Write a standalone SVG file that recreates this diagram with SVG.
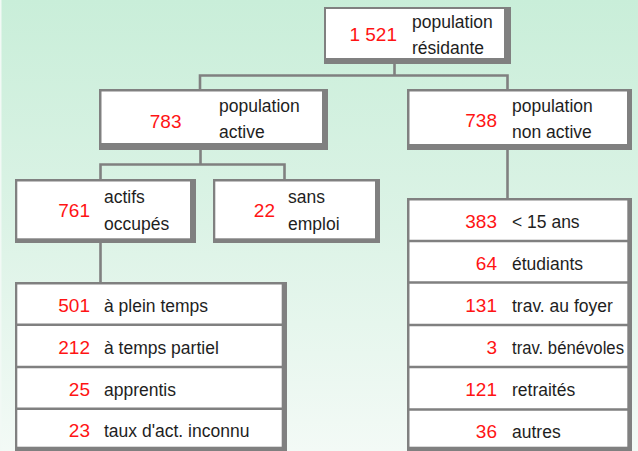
<svg xmlns="http://www.w3.org/2000/svg" width="638" height="451" viewBox="0 0 638 451">
<defs>
<linearGradient id="bg" x1="0" y1="0" x2="0" y2="1">
<stop offset="0" stop-color="#c9eed9"/>
<stop offset="0.5" stop-color="#dcf3e6"/>
<stop offset="1" stop-color="#f3faf6"/>
</linearGradient>
<style>
.sh{fill:#808080}
.bx{fill:#ffffff}
.dv{stroke:#808080;stroke-width:2.5;fill:none}
.cn{stroke:#808080;stroke-width:2.6;fill:none}
.n{font-family:"Liberation Sans",Arial,sans-serif;font-size:19px;fill:#ff1414;text-anchor:end}
.t{font-family:"Liberation Sans",Arial,sans-serif;font-size:17.5px;fill:#1e1e1e}
</style>
</defs>
<rect x="0" y="0" width="638" height="451" fill="url(#bg)"/>
<rect x="0" y="0" width="1.5" height="451" fill="#f2f9f5"/>

<g id="connectors">
<path class="cn" d="M394.5,62 V75.5"/>
<path class="cn" d="M200,90 V75.5 H507.5 V90"/>
<path class="cn" d="M200.5,148 V164.5"/>
<path class="cn" d="M100.5,180 V164.5 H284.5 V180"/>
<path class="cn" d="M507.5,148 V199"/>
<path class="cn" d="M100.5,241 V283"/>
</g>

<g id="n-residante">
<rect class="sh" x="324" y="7" width="187" height="57"/>
<rect class="bx" x="326" y="9" width="178" height="49"/>
<text class="n" x="397" y="41">1 521</text>
<text class="t" x="412" y="28">population</text>
<text class="t" x="412" y="54">résidante</text>
</g>

<g id="n-active">
<rect class="sh" x="99" y="89" width="229" height="61"/>
<rect class="bx" x="101.5" y="91.5" width="220.5" height="51.5"/>
<text class="n" x="181.5" y="127.5">783</text>
<text class="t" x="219" y="112">population</text>
<text class="t" x="219" y="137.5">active</text>
</g>

<g id="n-nonactive">
<rect class="sh" x="407" y="89" width="225" height="61"/>
<rect class="bx" x="409.5" y="91.5" width="217.5" height="52.5"/>
<text class="n" x="497" y="127">738</text>
<text class="t" x="512" y="112">population</text>
<text class="t" x="512" y="138">non active</text>
</g>

<g id="n-occupes">
<rect class="sh" x="15" y="179" width="181" height="64"/>
<rect class="bx" x="17.3" y="181.5" width="172.7" height="56.8"/>
<text class="n" x="90" y="216.5">761</text>
<text class="t" x="104" y="203">actifs</text>
<text class="t" x="104" y="229.5">occupés</text>
</g>

<g id="n-sansemploi">
<rect class="sh" x="213" y="179" width="167" height="64"/>
<rect class="bx" x="215.3" y="181.5" width="159.7" height="56.8"/>
<text class="n" x="275" y="216.5">22</text>
<text class="t" x="288" y="203">sans</text>
<text class="t" x="288" y="229.5">emploi</text>
</g>

<g id="n-actifs-detail">
<rect class="sh" x="15" y="282" width="272" height="169"/>
<rect class="bx" x="17.3" y="284.5" width="264.4" height="162.2"/>
<path class="dv" d="M17,324.7 H282 M17,367 H282 M17,408.7 H282"/>
<text class="n" x="90" y="312">501</text><text class="t" x="104" y="312">à plein temps</text>
<text class="n" x="90" y="353.5">212</text><text class="t" x="104" y="353.5">à temps partiel</text>
<text class="n" x="90" y="396">25</text><text class="t" x="104" y="396">apprentis</text>
<text class="n" x="90" y="437">23</text><text class="t" x="104" y="437">taux d'act. inconnu</text>
</g>

<g id="n-nonactifs-detail">
<rect class="sh" x="407" y="198" width="225" height="253"/>
<rect class="bx" x="409.5" y="200.5" width="217.8" height="246.2"/>
<path class="dv" d="M409,241 H628 M409,282.5 H628 M409,325 H628 M409,367 H628 M409,409.5 H628"/>
<text class="n" x="497" y="228.3">383</text><text class="t" x="512" y="228.3">&lt; 15 ans</text>
<text class="n" x="497" y="270">64</text><text class="t" x="512" y="270">étudiants</text>
<text class="n" x="497" y="311.7">131</text><text class="t" x="512" y="311.7">trav. au foyer</text>
<text class="n" x="497" y="354">3</text><text class="t" x="512" y="354" textLength="112" lengthAdjust="spacingAndGlyphs">trav. bénévoles</text>
<text class="n" x="497" y="396">121</text><text class="t" x="512" y="396">retraités</text>
<text class="n" x="497" y="438">36</text><text class="t" x="512" y="438">autres</text>
</g>
</svg>
